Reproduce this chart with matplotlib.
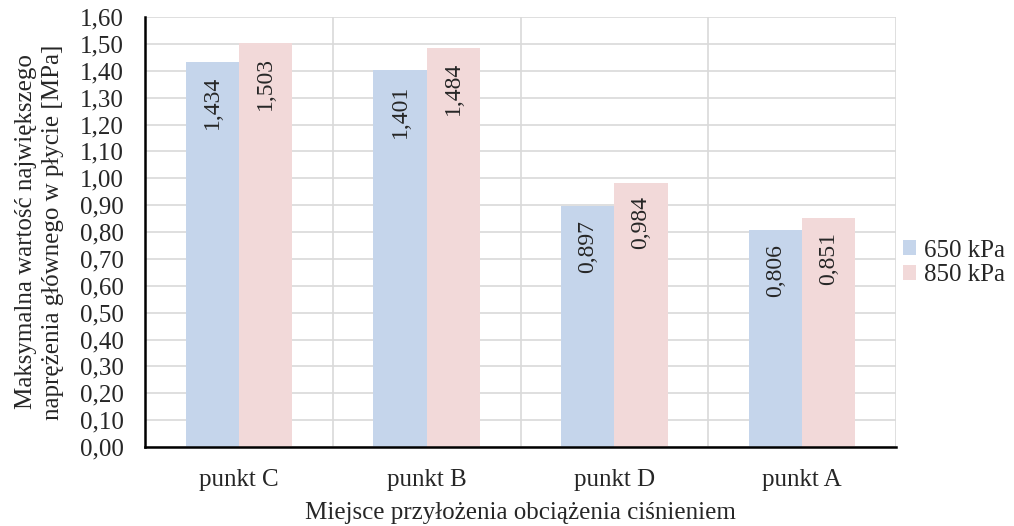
import matplotlib
matplotlib.use("Agg")
import matplotlib.pyplot as plt
import numpy as np

plt.rcParams['font.family'] = ['Liberation Serif', 'DejaVu Serif']

categories = ["punkt C", "punkt B", "punkt D", "punkt A"]
series_names = ["650 kPa", "850 kPa"]
values_650 = [1.434, 1.401, 0.897, 0.806]
values_850 = [1.503, 1.484, 0.984, 0.851]
yticks = [0.0, 0.1, 0.2, 0.3, 0.4, 0.5, 0.6, 0.7, 0.8, 0.9, 1.0, 1.1, 1.2, 1.3, 1.4, 1.5, 1.6]

colors = ["#C5D5EB", "#F2D9D9"]
fs = 18

fig = plt.figure(figsize=(10.14, 5.26), dpi=100)
ax = fig.add_axes([145 / 1014, 1 - 447 / 526, 751 / 1014, 430 / 526])

x = np.arange(len(categories))
w = 0.283
for i, (vals, name) in enumerate(zip([values_650, values_850], series_names)):
    pos = x + (i - 0.5) * w
    ax.bar(pos, vals, width=w, color=colors[i], label=name, zorder=2)
    for px, v in zip(pos, vals):
        ax.annotate(f"{v:.3f}".replace(".", ","), xy=(px, v), xytext=(0, -10),
                    textcoords="offset points", rotation=90, ha="center", va="top",
                    fontsize=17, color="#262626", zorder=3)

ax.set_xlim(-0.5, len(categories) - 0.5)
ax.set_ylim(0, 1.6)
ax.set_yticks(yticks)
ax.set_yticklabels([f"{t:.2f}".replace(".", ",") for t in yticks], fontsize=fs)
ax.set_xticks(x)
ax.set_xticklabels(categories, fontsize=fs)
ax.tick_params(axis="both", length=0, colors="#262626")
ax.tick_params(axis="x", pad=16)
ax.tick_params(axis="y", pad=15)

# horizontal grid at ticks and vertical separators between categories
ax.yaxis.grid(True, color="#D9D9D9", linewidth=1.2, zorder=0)
ax.set_axisbelow(True)
for b in np.arange(0.5, len(categories) + 0.5, 1.0):
    ax.axvline(b, color="#D9D9D9", linewidth=1.2, zorder=0)

for s in ["top", "right"]:
    ax.spines[s].set_visible(False)
for s in ["left", "bottom"]:
    ax.spines[s].set_color("black")
    ax.spines[s].set_linewidth(1.8)
    ax.spines[s].set_zorder(4)

ax.set_ylabel("Maksymalna wartość największego\nnaprężenia głównego w płycie [MPa]",
              fontsize=fs, color="#262626", linespacing=1.3, labelpad=12)
ax.set_xlabel("Miejsce przyłożenia obciążenia ciśnieniem", fontsize=fs,
              color="#262626", labelpad=8)

fig.legend(loc="center left", bbox_to_anchor=(900 / 1014, 1 - 263 / 526), frameon=False,
           fontsize=fs, handlelength=0.55, handleheight=0.55, handletextpad=0.3,
           labelspacing=0.1, borderpad=0.1, borderaxespad=0, labelcolor="#262626")

fig.savefig("out.png", dpi=100)
